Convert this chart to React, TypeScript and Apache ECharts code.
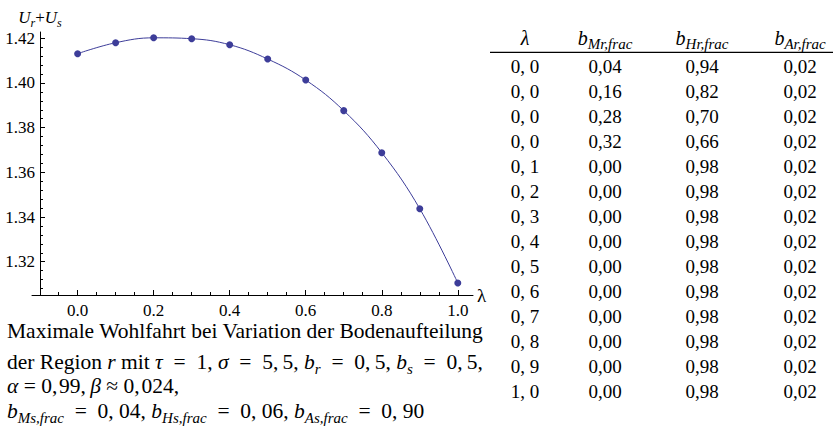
import React, { useEffect, useRef } from 'react';
import * as echarts from 'echarts';

const lambdas = [0, 0.1, 0.2, 0.3, 0.4, 0.5, 0.6, 0.7, 0.8, 0.9, 1.0];
const welfare = [1.4131, 1.418, 1.4202, 1.4198, 1.4171, 1.4107, 1.4013, 1.3876, 1.3688, 1.3437, 1.3105];

const xMajorTicks = [0, 0.2, 0.4, 0.6, 0.8, 1.0];
const xMinorTicks = [-0.05, 0.05, 0.1, 0.15, 0.25, 0.3, 0.35, 0.45, 0.5, 0.55, 0.65, 0.7, 0.75, 0.85, 0.9, 0.95];
const yMajorTicks = [1.32, 1.34, 1.36, 1.38, 1.4, 1.42];
const yMinorTicks = [1.308, 1.312, 1.316, 1.324, 1.328, 1.332, 1.336, 1.344, 1.348, 1.352, 1.356, 1.364, 1.368, 1.372, 1.376, 1.384, 1.388, 1.392, 1.396, 1.404, 1.408, 1.412, 1.416];

const tableLambda = [0.0, 0.0, 0.0, 0.0, 0.1, 0.2, 0.3, 0.4, 0.5, 0.6, 0.7, 0.8, 0.9, 1.0];
const tableBMr = [0.04, 0.16, 0.28, 0.32, 0.0, 0.0, 0.0, 0.0, 0.0, 0.0, 0.0, 0.0, 0.0, 0.0];
const tableBHr = [0.94, 0.82, 0.7, 0.66, 0.98, 0.98, 0.98, 0.98, 0.98, 0.98, 0.98, 0.98, 0.98, 0.98];
const tableBAr = [0.02, 0.02, 0.02, 0.02, 0.02, 0.02, 0.02, 0.02, 0.02, 0.02, 0.02, 0.02, 0.02, 0.02];
const tableHeaders = ['{i|λ}', '{i|b}{s|Mr,frac}', '{i|b}{s|Hr,frac}', '{i|b}{s|Ar,frac}'];

const TH = '\u2009';
const HA = '\u200A';
const EN = '\u2002';
const captionLines = [
  '{n|Maximale Wohlfahrt bei Variation der Bodenaufteilung}',
  `{n|der Region }{i|r}{n| mit }{i|τ}{n|  =  1, }{i|σ}{n|  =  5,${TH}5, }{i|b}{s|r}{n|  =  0,${TH}5, }{i|b}{s|s}{n|  =  0,${TH}5,}`,
  `{i|α}{n| = 0,${HA}99,${TH}}{i|β}{n| ≈ 0,${HA}024,}`,
  `{i|b}{s|Ms,frac}{n|${EN}=${EN}0, 04, }{i|b}{s|Hs,frac}{n|${EN}=${EN}0, 06, }{i|b}{s|As,frac}{n|${EN}=${EN}0, 90}`,
];

const SERIF = 'Liberation Serif, Times New Roman, serif';
const BLUE = '#3d3d99';

// main font size, subscript size, subscript drop below baseline
const richStyles = (size: number, sub: number, drop: number) => {
  const L = 2 * (0.3375 * size + drop - 0.3375 * sub + sub / 2);
  return {
    n: { fontFamily: SERIF, fontSize: size, lineHeight: L, color: '#000' },
    i: { fontFamily: SERIF, fontSize: size, fontStyle: 'italic', lineHeight: L, color: '#000' },
    s: { fontFamily: SERIF, fontSize: sub, fontStyle: 'italic', lineHeight: sub, verticalAlign: 'bottom', color: '#000' },
  };
};
const plainRich = (size: number, lh?: number) => ({
  n: { fontFamily: SERIF, fontSize: size, fontStyle: 'normal', fontWeight: 'normal', lineHeight: lh ?? Math.round(size * 1.2), color: '#000' },
});

const fmtLambda = (v: number) => v.toFixed(1).replace('.', ', ');
const fmtFrac = (v: number) => v.toFixed(2).replace('.', ',');

export default function App() {
  const ref = useRef<HTMLDivElement>(null);
  useEffect(() => {
    if (!ref.current) return;
    const chart = echarts.init(ref.current, undefined, { renderer: 'svg' });

    const colX = [525, 605, 702, 800];
    const graphics: any[] = [];
    tableHeaders.forEach((h, c) => {
      graphics.push({
        type: 'text',
        x: colX[c],
        y: 45 - 0.3375 * 20,
        style: {
          text: h,
          align: 'center', verticalAlign: 'middle',
          textAlign: 'center', textVerticalAlign: 'middle',
          rich: richStyles(20, 15, 4),
        },
      });
    });
    graphics.push({
      type: 'line',
      shape: { x1: 490, y1: 52.3, x2: 833, y2: 52.3 },
      style: { stroke: '#000', lineWidth: 1.2 },
    });
    const cols = [tableLambda.map(fmtLambda), tableBMr.map(fmtFrac), tableBHr.map(fmtFrac), tableBAr.map(fmtFrac)];
    cols.forEach((col, c) => {
      col.forEach((t, r) => {
        graphics.push({
          type: 'text',
          x: colX[c],
          y: 66.3 + 25 * r,
          style: {
            text: `{n|${t}}`,
            rich: plainRich(19),
            align: 'center', verticalAlign: 'middle',
            textAlign: 'center', textVerticalAlign: 'middle',
          },
        });
      });
    });
    const capBaselines = [338.3, 369, 393.3, 418.3];
    captionLines.forEach((line, k) => {
      graphics.push({
        type: 'text',
        x: 7,
        y: capBaselines[k] - 0.3375 * 21.5,
        style: {
          text: line,
          align: 'left', verticalAlign: 'middle',
          textAlign: 'left', textVerticalAlign: 'middle',
          rich: richStyles(21.5, 15, 5),
        },
      });
    });

    const axisCommon = {
      type: 'value' as const,
      splitLine: { show: false },
    };

    chart.setOption({
      animation: false,
      textStyle: { fontFamily: SERIF },
      grid: { left: 32, top: 32, width: 441, height: 263, containLabel: false, outerBoundsMode: 'none' },
      xAxis: [
        {
          ...axisCommon,
          min: -0.12,
          max: 1.04,
          axisLine: { show: true, onZero: false, lineStyle: { color: '#000', width: 1 } },
          axisTick: { show: true, inside: true, length: 5, customValues: xMajorTicks, lineStyle: { color: '#000' } },
          axisLabel: {
            customValues: xMajorTicks,
            formatter: (v: number) => `{n|${v.toFixed(1)}}`,
            rich: plainRich(17),
            fontFamily: SERIF,
            fontSize: 17,
            margin: 5,
          },
          name: '{n|λ}',
          nameLocation: 'end',
          nameGap: 4,
          nameTextStyle: { rich: plainRich(19), verticalAlign: 'middle' },
        },
        {
          ...axisCommon,
          min: -0.12,
          max: 1.04,
          position: 'bottom',
          axisLine: { show: false, onZero: false },
          axisTick: { show: true, inside: true, length: 3, customValues: xMinorTicks, lineStyle: { color: '#000' } },
          axisLabel: { show: false },
        },
      ],
      yAxis: [
        {
          ...axisCommon,
          min: 1.3051,
          max: 1.4228,
          offset: -8,
          axisLine: { show: true, onZero: false, lineStyle: { color: '#000', width: 1 } },
          axisTick: { show: true, inside: true, length: 5, customValues: yMajorTicks, lineStyle: { color: '#000' } },
          axisLabel: {
            customValues: yMajorTicks,
            formatter: (v: number) => `{n|${v.toFixed(2)}}`,
            rich: plainRich(17, 16),
            fontFamily: SERIF,
            fontSize: 17,
            margin: 5,
          },
          name: '{i|U}{s|r}{n|+}{i|U}{s|s}',
          nameLocation: 'end',
          nameGap: 3,
          nameTextStyle: { rich: richStyles(17, 12, 3.5) },
        },
        {
          ...axisCommon,
          min: 1.3051,
          max: 1.4228,
          offset: -8,
          position: 'left',
          axisLine: { show: false, onZero: false },
          axisTick: { show: true, inside: true, length: 3, customValues: yMinorTicks, lineStyle: { color: '#000' } },
          axisLabel: { show: false },
        },
      ],
      series: [
        {
          type: 'line',
          data: lambdas.map((l, i) => [l, welfare[i]]),
          smooth: 0.4,
          symbol: 'circle',
          symbolSize: 7,
          showSymbol: true,
          itemStyle: { color: BLUE },
          lineStyle: { color: BLUE, width: 1 },
        },
      ],
      graphic: graphics,
    });
    return () => chart.dispose();
  }, []);
  return <div ref={ref} style={{ position: 'fixed', left: 0, top: 0, width: 840, height: 426, background: '#fff' }} />;
}
